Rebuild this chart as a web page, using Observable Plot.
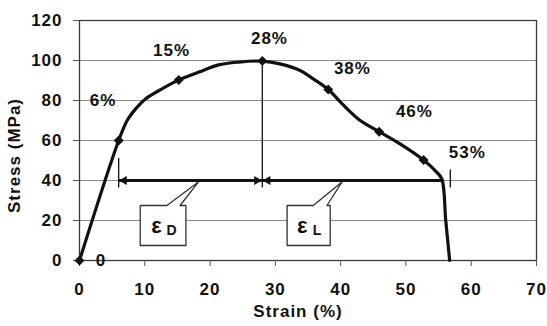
<!DOCTYPE html>
<html><head><meta charset="utf-8">
<script src="https://cdn.jsdelivr.net/npm/d3@7"></script>
<script src="https://cdn.jsdelivr.net/npm/@observablehq/plot@0.6"></script>
<style>
body{margin:0;background:#fff}
#chart g[aria-label$="tick label"]{font-size:17px;font-weight:bold;}
</style>
</head><body><div id="chart"></div>
<script>
// stress–strain curve
const curveStrain = [0, 6, 7.3, 8.6, 10.1, 12.2, 15.2, 18.3, 21.3, 24.4, 28, 30.7, 33.8, 35.8, 38.1, 40.4, 43, 45.9, 49.1, 52.7, 54.7, 55.5, 56.1, 56.7];
const curveStress = [0, 60, 70, 75.8, 80.8, 85, 90.3, 94.2, 97.8, 99.2, 99.7, 98.3, 95, 90.8, 85.5, 77.8, 70, 64.4, 58.3, 50.2, 44.2, 40.8, 20, 0];

// labelled markers
const markStrain = [0, 6, 15.2, 28, 38.1, 45.9, 52.7];
const markStress = [0, 60, 90.3, 99.7, 85.5, 64.4, 50.2];
const markLabels = ["0", "6%", "15%", "28%", "38%", "46%", "53%"];
const labelStrain = [3.3, 3.6, 14.1, 29.1, 41.8, 51.3, 59.4];
const labelStress = [0, 80, 105, 111, 96, 74.5, 54];

// axes
const xTicks = [0, 10, 20, 30, 40, 50, 60, 70];
const yTicks = [0, 20, 40, 60, 80, 100, 120];
const xTitle = "Strain (%)";
const yTitle = "Stress (MPa)";

// dimension lines (strain values) at stress level 40
const dimLevel = 40;
const dimStart = 6, dimMid = 28, dimEnd = 55.5;
const tickStrain = [6, 28, 56.8];
const tickTop = [51, 99.7, 45.3];
const tickBottom = [36.3, 36.3, 36.3];

// callouts: box [x0, x1, y0, y1], tail base [xa, xb], tip [x, y]
const calloutNames = ["D", "L"];
const calloutBox = [[9.3, 16.3, 7.5, 27.5], [31.8, 38.4, 7.5, 27.5]];
const calloutTail = [[13.4, 15.4], [35.8, 37.9]];
const calloutTip = [[18.2, 39.2], [40.2, 39.2]];

const curve = curveStrain.map((x, i) => ({x, y: curveStress[i]}));
const markers = markStrain.map((x, i) => ({x, y: markStress[i]}));
const labels = markLabels.map((t, i) => ({x: labelStrain[i], y: labelStress[i], t}));

const callouts = calloutNames.map((name, i) => {
  const [x0, x1, y0, y1] = calloutBox[i];
  const [ta, tb] = calloutTail[i];
  const [tx, ty] = calloutTip[i];
  const pts = [[x0, y1], [ta, y1], [tx, ty], [tb, y1], [x1, y1], [x1, y0], [x0, y0]];
  return pts.map(([x, y]) => ({name, x, y}));
}).flat();
const calloutText = calloutNames.map((name, i) => ({
  name, x: (calloutBox[i][0] + calloutBox[i][1]) / 2, y: (calloutBox[i][2] + calloutBox[i][3]) / 2
}));

const dimLine = [{x1: dimStart, x2: dimEnd, y: dimLevel}];
const headsLeft = [{x: dimStart, y: dimLevel}, {x: dimMid, y: dimLevel}];
const headsRight = [{x: dimMid, y: dimLevel}];
const ticksV = tickStrain.map((x, i) => ({x, y1: tickBottom[i], y2: tickTop[i]}));

const ink = "#111";
const font = "'Liberation Sans', Arial, sans-serif";
const chart = Plot.plot({
  width: 547, height: 326,
  marginLeft: 79, marginRight: 11, marginTop: 20, marginBottom: 66,
  x: {domain: [0, 70]},
  y: {domain: [0, 120]},
  style: {fontFamily: font, fontSize: "17px", fontWeight: "bold", letterSpacing: "1px", color: ink, background: "#fff"},
  marks: [
    Plot.gridY(yTicks, {stroke: "#8c8c8c", strokeOpacity: 1, strokeWidth: 1.1}),
    Plot.frame({stroke: "#3a3a3a", strokeWidth: 1.3}),
    Plot.axisX({ticks: xTicks, tickSize: 6, tickPadding: 16, label: null, stroke: "#555", fill: ink}),
    Plot.axisY({ticks: yTicks, tickSize: 6, tickPadding: 11, label: null, stroke: "#555", fill: ink}),
    Plot.text([xTitle], {frameAnchor: "bottom", lineAnchor: "middle", textAnchor: "middle", dx: -10, dy: 51, fill: ink, fontSize: 17, fontWeight: "bold"}),
    Plot.text([yTitle], {frameAnchor: "left", lineAnchor: "middle", textAnchor: "middle", dx: -65, dy: 15, rotate: -90, fill: ink, fontSize: 17, fontWeight: "bold"}),
    // callouts
    Plot.line(callouts, {x: "x", y: "y", z: "name", curve: "linear-closed", fill: "white", stroke: "#333", strokeWidth: 1.3}),
    Plot.text(calloutText, {x: "x", y: "y", text: () => "ε", dx: -6, dy: 0, fontSize: 22, fontWeight: "bold", fill: ink}),
    Plot.text(calloutText, {x: "x", y: "y", text: "name", dx: 9, dy: 5.5, fontSize: 14, fontWeight: "bold", fill: ink}),
    // dimension lines
    Plot.ruleX(ticksV, {x: "x", y1: "y1", y2: "y2", stroke: ink, strokeWidth: 1.3}),
    Plot.ruleY(dimLine, {x1: "x1", x2: "x2", y: "y", stroke: ink, strokeWidth: 3}),
    Plot.dot(headsLeft, {x: "x", y: "y", symbol: "triangle", rotate: -90, r: 3.3, dx: 5.5, fill: ink, stroke: null}),
    Plot.dot(headsRight, {x: "x", y: "y", symbol: "triangle", rotate: 90, r: 3.3, dx: -5.5, fill: ink, stroke: null}),
    // curve
    Plot.line(curve, {x: "x", y: "y", curve: "catmull-rom", stroke: ink, strokeWidth: 3.2}),
    Plot.dot(markers, {x: "x", y: "y", symbol: "diamond2", r: 4.5, fill: ink, stroke: null}),
    Plot.text(labels, {x: "x", y: "y", text: "t", fontSize: 17, fontWeight: "bold", fill: ink})
  ]
});
document.getElementById("chart").append(chart);
</script>
</body></html>
